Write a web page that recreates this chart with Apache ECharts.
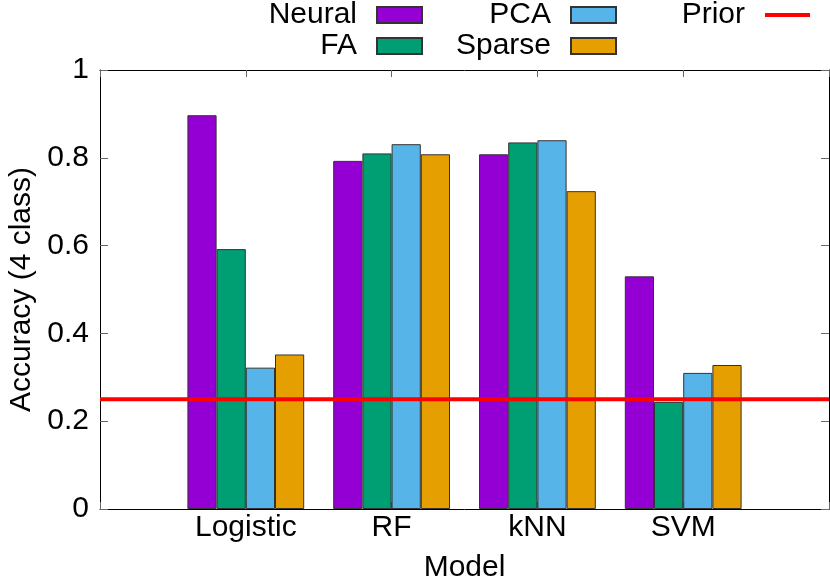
<!DOCTYPE html>
<html>
<head>
<meta charset="utf-8">
<script src="https://cdn.jsdelivr.net/npm/echarts@6/dist/echarts.min.js"></script>
<style>html,body{margin:0;padding:0;background:#fff}#c{width:830px;height:580px}</style>
</head>
<body>
<div id="c"></div>
<script>
const categories = ['Logistic', 'RF', 'kNN', 'SVM'];
const neural = [0.897, 0.793, 0.808, 0.530];
const fa     = [0.592, 0.810, 0.835, 0.244];
const pca    = [0.322, 0.831, 0.840, 0.310];
const sparse = [0.352, 0.808, 0.724, 0.328];
const prior  = 0.25;
const yTicks = [0, 0.2, 0.4, 0.6, 0.8, 1];

const FONT = '"Liberation Sans", Arial, sans-serif';
const colors = { Neural: '#9400d3', FA: '#009e73', PCA: '#56b4e9', Sparse: '#e69f00', Prior: '#ff0000' };

function pts(arr) { return arr.map((v, i) => [i, v]); }
function barSeries(name, arr) {
  return {
    name, type: 'bar', data: pts(arr), barWidth: 29.2, barGap: '0%',
    itemStyle: { color: colors[name], borderColor: '#333', borderWidth: 1 },
    emphasis: { disabled: true }
  };
}
function legendItem(name, right, top, icon, h) {
  return {
    data: [{ name, icon }], right, top, padding: 0, align: 'right',
    itemWidth: 45, itemHeight: h, selectedMode: false,
    textStyle: { fontFamily: FONT, fontSize: 30, color: '#000', lineHeight: 26, padding: [0, 15, 0, 0] }
  };
}
const axisLine = { show: true, onZero: false, lineStyle: { color: '#000', width: 1 } };
const tick = (len) => ({ show: true, inside: true, length: len, lineStyle: { color: '#666', width: 1 } });

const option = {
  animation: false,
  backgroundColor: '#fff',
  grid: { left: 100, right: 1, top: 70, bottom: 71, containLabel: false, outerBoundsMode: 'none' },
  legend: [
    legendItem('Neural', 407, 0, 'rect', 16),
    legendItem('FA', 407, 31, 'rect', 16),
    legendItem('PCA', 213, 0, 'rect', 16),
    legendItem('Sparse', 213, 31, 'rect', 16),
    legendItem('Prior', 20, 0, 'rect', 4)
  ],
  xAxis: [
    {
      type: 'value', position: 'bottom', min: -1, max: 4, interval: 1,
      axisLine, axisTick: tick(7), splitLine: { show: false },
      axisLabel: {
        margin: 4, fontFamily: FONT, fontSize: 30, color: '#000',
        formatter: v => (Number.isInteger(v) && v >= 0 && v < categories.length) ? categories[v] : ''
      },
      name: 'Model', nameLocation: 'middle', nameGap: 44,
      nameTextStyle: { fontFamily: FONT, fontSize: 30, color: '#000' }
    },
    {
      type: 'value', position: 'top', min: -1, max: 4, interval: 1,
      axisLine, axisTick: tick(7), splitLine: { show: false }, axisLabel: { show: false }
    }
  ],
  yAxis: [
    {
      type: 'value', position: 'left', min: 0, max: 1, interval: 0.2,
      axisLine, axisTick: tick(8), splitLine: { show: false },
      axisLabel: {
        margin: 11, fontFamily: FONT, fontSize: 30, color: '#000',
        formatter: v => { const t = yTicks.find(x => Math.abs(x - v) < 1e-9); return t === undefined ? '' : String(t); }
      },
      name: 'Accuracy (4 class)', nameLocation: 'middle', nameGap: 62,
      nameTextStyle: { fontFamily: FONT, fontSize: 30, color: '#000' }
    },
    {
      type: 'value', position: 'right', min: 0, max: 1, interval: 0.2,
      axisLine, axisTick: tick(8), splitLine: { show: false }, axisLabel: { show: false }
    }
  ],
  series: [
    barSeries('Neural', neural),
    barSeries('FA', fa),
    barSeries('PCA', pca),
    barSeries('Sparse', sparse),
    {
      name: 'Prior', type: 'line', data: [[-1, prior], [4, prior]], showSymbol: false, symbol: 'none',
      z: 5, color: colors.Prior,
      lineStyle: { color: colors.Prior, width: 4 },
      itemStyle: { color: colors.Prior },
      emphasis: { disabled: true }
    }
  ]
};
const chart = echarts.init(document.getElementById('c'), null, { renderer: 'canvas' });
chart.setOption(option);
</script>
</body>
</html>
